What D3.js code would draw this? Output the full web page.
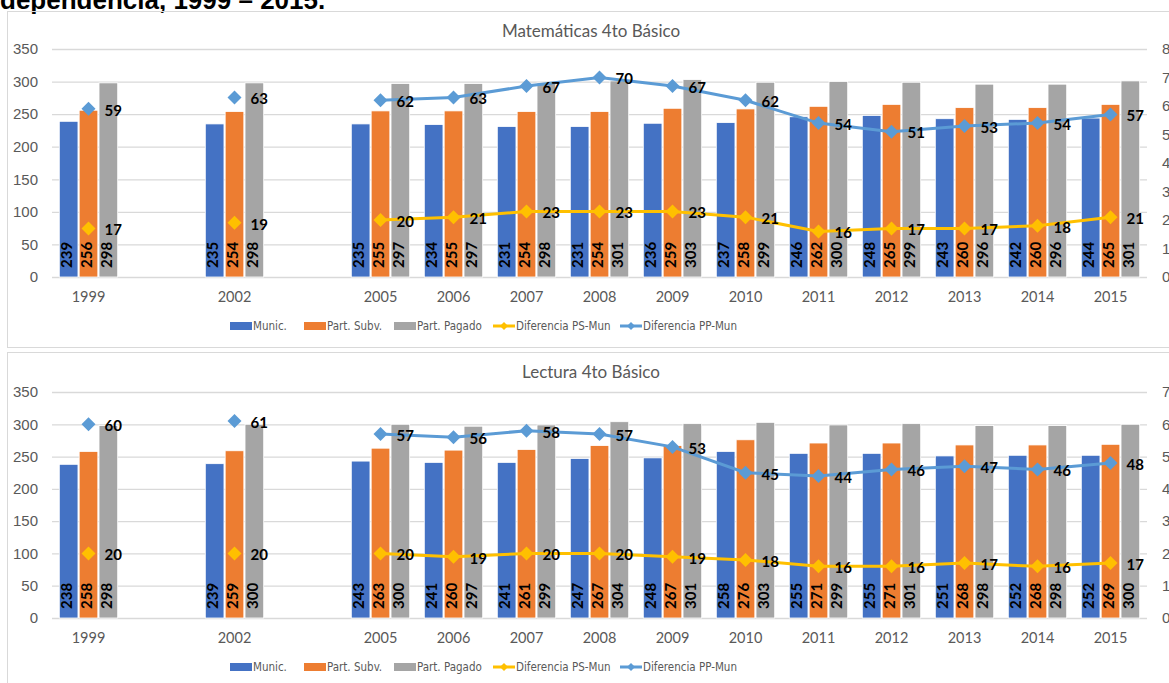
<!DOCTYPE html>
<html>
<head>
<meta charset="utf-8">
<script src="https://cdn.jsdelivr.net/npm/d3@7"></script>
<style>
  body { margin: 0; background: #fff; overflow: hidden; }
  svg { display: block; font-family: Lato, "Open Sans", sans-serif; }
</style>
</head>
<body>
<svg id="chart" width="1169" height="683"></svg>
<script>
// x slots (empty strings are the missing years, left blank like the original)
const slots = ['1999', '', '2002', '', '2005', '2006', '2007', '2008', '2009', '2010', '2011', '2012', '2013', '2014', '2015'];

// Matemáticas 4to Básico
const mathMunic  = [239, null, 235, null, 235, 234, 231, 231, 236, 237, 246, 248, 243, 242, 244];
const mathSubv   = [256, null, 254, null, 255, 255, 254, 254, 259, 258, 262, 265, 260, 260, 265];
const mathPagado = [298, null, 298, null, 297, 297, 298, 301, 303, 299, 300, 299, 296, 296, 301];
const mathDifPS  = [17, null, 19, null, 20, 21, 23, 23, 23, 21, 16, 17, 17, 18, 21];
const mathDifPP  = [59, null, 63, null, 62, 63, 67, 70, 67, 62, 54, 51, 53, 54, 57];

// Lectura 4to Básico
const lectMunic  = [238, null, 239, null, 243, 241, 241, 247, 248, 258, 255, 255, 251, 252, 252];
const lectSubv   = [258, null, 259, null, 263, 260, 261, 267, 267, 276, 271, 271, 268, 268, 269];
const lectPagado = [298, null, 300, null, 300, 297, 299, 304, 301, 303, 299, 301, 298, 298, 300];
const lectDifPS  = [20, null, 20, null, 20, 19, 20, 20, 19, 18, 16, 16, 17, 16, 17];
const lectDifPP  = [60, null, 61, null, 57, 56, 58, 57, 53, 45, 44, 46, 47, 46, 48];

const leftTicks = [0, 50, 100, 150, 200, 250, 300, 350];
const legendLabels = ['Munic.', 'Part. Subv.', 'Part. Pagado', 'Diferencia PS-Mun', 'Diferencia PP-Mun'];

const barColors = ['#4472C4', '#ED7D31', '#A5A5A5'];
const lineColors = ['#FFC000', '#5B9BD5'];
const textGray = '#595959';
const gridGray = '#D9D9D9';
const narrow = '"Liberation Sans Narrow", "DejaVu Sans Condensed", Lato, sans-serif';

const svg = d3.select('#chart');

// title of the page, cut off at the top like in the source
svg.append('text')
  .attr('x', 0)
  .attr('y', 9)
  .attr('font-family', 'Liberation Sans, Arial, sans-serif')
  .attr('font-weight', 'bold')
  .attr('font-size', 26)
  .text('dependencia, 1999 – 2015.');

drawPanel({
  top: 11, height: 336, title: 'Matemáticas 4to Básico',
  y0: 277, y350: 49, rightMax: 80,
  bars: [mathMunic, mathSubv, mathPagado],
  lines: [mathDifPS, mathDifPP]
});

drawPanel({
  top: 352, height: 340, title: 'Lectura 4to Básico',
  y0: 618, y350: 392, rightMax: 70,
  bars: [lectMunic, lectSubv, lectPagado],
  lines: [lectDifPS, lectDifPP]
});

function drawPanel(p) {
  const g = svg.append('g');
  const left = 52, right = 1147;

  g.append('rect')
    .attr('x', 7.5).attr('y', p.top + 0.5)
    .attr('width', 1200).attr('height', p.height)
    .attr('fill', 'none').attr('stroke', gridGray);

  g.append('text')
    .attr('x', 591).attr('y', p.top + 22)
    .attr('text-anchor', 'middle')
    .attr('dominant-baseline', 'middle')
    .attr('font-size', 17).attr('fill', textGray)
    .text(p.title);

  const x = d3.scaleBand()
    .domain(d3.range(slots.length))
    .range([left, right])
    .paddingInner(0.2)
    .paddingOuter(0.1);
  const xSub = d3.scaleBand()
    .domain([0, 1, 2])
    .range([0, x.bandwidth()])
    .paddingInner(0.06);
  const y = d3.scaleLinear().domain([0, 350]).range([p.y0, p.y350]);
  const yR = d3.scaleLinear().domain([0, p.rightMax]).range([p.y0, p.y350]);

  // gridlines + left axis
  const yAxis = g.append('g')
    .attr('transform', `translate(${left},0)`)
    .call(d3.axisLeft(y).tickValues(leftTicks).tickSize(-(right - left)).tickPadding(14));
  yAxis.select('.domain').remove();
  yAxis.selectAll('line').attr('stroke', gridGray).attr('stroke-width', 1.3);
  yAxis.selectAll('text').attr('font-size', 15).attr('fill', textGray).attr('font-family', null);

  // right axis, clipped by the window edge
  const yAxisR = g.append('g')
    .attr('transform', `translate(${right},0)`)
    .call(d3.axisRight(yR).ticks(p.rightMax / 10).tickSize(0).tickPadding(15));
  yAxisR.select('.domain').remove();
  yAxisR.selectAll('text').attr('font-size', 15).attr('fill', textGray).attr('font-family', null);

  // x labels
  g.append('g')
    .selectAll('text')
    .data(slots)
    .join('text')
    .attr('x', (d, i) => x(i) + x.bandwidth() / 2)
    .attr('y', p.y0 + 21)
    .attr('text-anchor', 'middle')
    .attr('dominant-baseline', 'middle')
    .attr('font-size', 14.5).attr('fill', textGray)
    .text(d => d);

  // bars
  p.bars.forEach((series, s) => {
    const bg = g.append('g');
    const pts = series.map((v, i) => ({ v, i })).filter(d => d.v != null);
    bg.selectAll('rect')
      .data(pts)
      .join('rect')
      .attr('x', d => x(d.i) + xSub(s))
      .attr('y', d => y(d.v))
      .attr('width', xSub.bandwidth())
      .attr('height', d => p.y0 - y(d.v))
      .attr('fill', barColors[s])
      .attr('stroke', '#fff')
      .attr('stroke-width', 0.8);
    bg.selectAll('text')
      .data(pts)
      .join('text')
      .attr('transform', d => `translate(${x(d.i) + xSub(s) + xSub.bandwidth() / 2},${p.y0 - 9}) rotate(-90)`)
      .attr('dominant-baseline', 'middle')
      .attr('font-size', 15).attr('font-weight', 'bold')
      .text(d => d.v);
  });

  // lines with diamond markers
  const diamond = 'M0,-7L7,0L0,7L-7,0Z';
  p.lines.forEach((series, s) => {
    const lg = g.append('g');
    const cx = i => x(i) + x.bandwidth() / 2;
    lg.append('path')
      .datum(series)
      .attr('d', d3.line().defined(v => v != null).x((v, i) => cx(i)).y(v => yR(v)))
      .attr('fill', 'none')
      .attr('stroke', lineColors[s])
      .attr('stroke-width', 3);
    const pts = series.map((v, i) => ({ v, i })).filter(d => d.v != null);
    lg.selectAll('path.mk')
      .data(pts)
      .join('path')
      .attr('class', 'mk')
      .attr('d', diamond)
      .attr('transform', d => `translate(${cx(d.i)},${yR(d.v)})`)
      .attr('fill', lineColors[s]);
    lg.selectAll('text')
      .data(pts)
      .join('text')
      .attr('x', d => cx(d.i) + 16)
      .attr('y', d => yR(d.v) + 3)
      .attr('dominant-baseline', 'middle')
      .attr('font-size', 15).attr('font-weight', 'bold')
      .text(d => d.v);
  });

  // legend
  const legX = [230, 304, 394, 493, 620];
  const ly = p.y0 + 49;
  const lgd = g.append('g');
  legendLabels.forEach((label, k) => {
    if (k < 3) {
      lgd.append('rect')
        .attr('x', legX[k]).attr('y', ly - 4)
        .attr('width', 22).attr('height', 8)
        .attr('fill', barColors[k]);
    } else {
      lgd.append('line')
        .attr('x1', legX[k]).attr('x2', legX[k] + 22)
        .attr('y1', ly).attr('y2', ly)
        .attr('stroke', lineColors[k - 3]).attr('stroke-width', 3);
      lgd.append('path')
        .attr('d', 'M0,-4L4,0L0,4L-4,0Z')
        .attr('transform', `translate(${legX[k] + 11},${ly})`)
        .attr('fill', lineColors[k - 3]);
    }
    lgd.append('text')
      .attr('x', legX[k] + 23).attr('y', ly)
      .attr('dominant-baseline', 'middle')
      .attr('font-family', narrow)
      .attr('font-size', 11.5).attr('fill', textGray)
      .text(label);
  });
}
</script>
</body>
</html>
